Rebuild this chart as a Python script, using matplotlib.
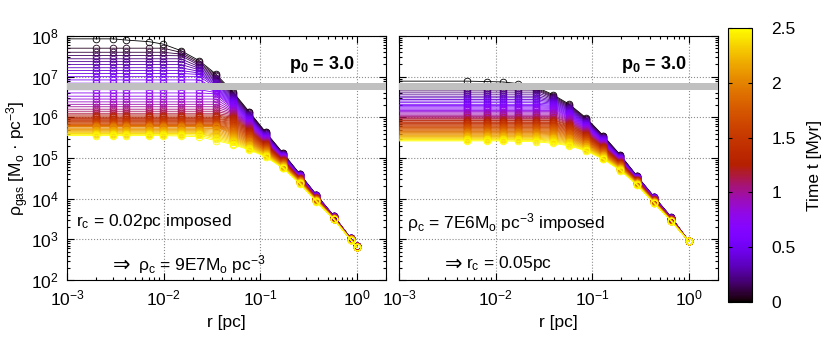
import numpy as np
import matplotlib.pyplot as plt
from matplotlib import colors, ticker
from matplotlib.cm import ScalarMappable

plt.rcParams['font.family'] = ['Liberation Sans', 'DejaVu Sans']
plt.rcParams['mathtext.fontset'] = 'custom'
plt.rcParams['mathtext.rm'] = 'Liberation Sans'
plt.rcParams['mathtext.it'] = 'Liberation Sans:italic'
plt.rcParams['mathtext.bf'] = 'Liberation Sans:bold'

# snapshot spacing [Myr] and colour range
dt = 0.05
t_max = 2.5

# left panel: r_c = 0.02 pc imposed
r_left = [0.0020, 0.0030, 0.0041, 0.0071, 0.0099, 0.0151, 0.0235, 0.0345, 0.052,
          0.0767, 0.1135, 0.172, 0.256, 0.38, 0.58, 0.86, 1.0]
# log10 rho of the first (t=0) and last (t=2.5) profiles
top_left = [7.93, 7.93, 7.90, 7.86, 7.80, 7.64, 7.39, 7.07, 6.63, 6.14, 5.64, 5.12,
            4.61, 4.10, 3.57, 3.03, 2.84]
bot_left = [5.55, 5.55, 5.55, 5.55, 5.55, 5.54, 5.52, 5.43, 5.33, 5.20, 5.03, 4.75,
            4.37, 3.93, 3.49, 2.99, 2.81]
# log10 central density of each snapshot
core_left = [7.93, 7.70, 7.60, 7.52, 7.44, 7.37, 7.30, 7.22, 7.15, 7.08,
             7.00, 6.92, 6.84, 6.76, 6.68, 6.60, 6.52, 6.45, 6.38, 6.32,
             6.26, 6.20, 6.15, 6.10, 6.06, 6.03, 6.00, 5.97, 5.95, 5.92,
             5.90, 5.88, 5.86, 5.84, 5.82, 5.81, 5.80, 5.79, 5.78, 5.77,
             5.76, 5.73, 5.70, 5.68, 5.66, 5.64, 5.62, 5.60, 5.59, 5.57, 5.55]

# right panel: rho_c = 7E6 imposed
r_right = [0.00505, 0.0081, 0.012, 0.017, 0.026, 0.039, 0.058, 0.087, 0.13, 0.196,
           0.29, 0.436, 0.66, 1.0]
top_right = [6.89, 6.88, 6.87, 6.83, 6.75, 6.56, 6.32, 5.98, 5.55, 5.07, 4.56, 4.05,
             3.54, 2.95]
bot_right = [5.42, 5.42, 5.42, 5.41, 5.40, 5.36, 5.30, 5.17, 4.97, 4.69, 4.34, 3.89,
             3.44, 2.95]
core_right = [6.89, 6.78, 6.72, 6.67, 6.62, 6.57, 6.52, 6.48, 6.44, 6.40,
              6.36, 6.32, 6.29, 6.26, 6.23, 6.20, 6.17, 6.14, 6.11, 6.08,
              6.05, 6.02, 6.00, 5.97, 5.94, 5.92, 5.89, 5.87, 5.85, 5.83,
              5.81, 5.79, 5.77, 5.75, 5.73, 5.71, 5.69, 5.67, 5.65, 5.63,
              5.61, 5.59, 5.57, 5.55, 5.53, 5.51, 5.49, 5.47, 5.46, 5.44, 5.42]

# gray band (log10 rho)
band = (6.67, 6.85)

cmap = plt.get_cmap('gnuplot')
norm = colors.Normalize(0, t_max)
xlim = (1e-3, 2.0)
ylim = (1e2, 1e8)
fs = 12.5


def draw_panel(ax, r, top, bot, core):
    r = np.array(r)
    top = np.array(top)
    bot = np.array(bot)
    n = len(core)
    xs = np.r_[xlim[0], r]
    for i, c in enumerate(core):
        f = i / (n - 1)
        prof = 10 ** np.minimum(c, (1 - f) * top + f * bot)
        col = cmap(norm(i * dt))
        ax.plot(xs, np.r_[prof[0], prof], '-', color=col, lw=0.6,
                marker='o', ms=4.8, mfc='none', mec=col, mew=0.6,
                markevery=list(range(1, len(r) + 1)), zorder=3)
    ax.axhspan(10 ** band[0], 10 ** band[1], color='#c0c0c0', lw=0, zorder=5)
    ax.set_xscale('log')
    ax.set_yscale('log')
    ax.set_xlim(*xlim)
    ax.set_ylim(*ylim)
    ax.xaxis.set_minor_locator(ticker.LogLocator(subs=range(2, 10), numticks=20))
    ax.yaxis.set_minor_locator(ticker.LogLocator(subs=range(2, 10), numticks=20))
    ax.xaxis.set_minor_formatter(ticker.NullFormatter())
    ax.yaxis.set_minor_formatter(ticker.NullFormatter())
    ax.set_axisbelow(True)
    ax.grid(True, which='major', ls=':', color='0.55', lw=0.8)
    ax.tick_params(which='both', direction='in', top=True, right=True,
                   labelsize=fs, width=0.8)
    ax.tick_params(which='major', length=5, pad=6)
    ax.tick_params(which='minor', length=2.5)
    ax.set_xlabel('r [pc]', fontsize=fs, labelpad=5)
    ax.text(0.80, 0.885, 'p$_\\mathbf{0}$ = 3.0', transform=ax.transAxes,
            fontsize=13, fontweight='bold', ha='center', va='center')


def implies(ax, x, y, rest, gap):
    # the arrow glyph is only in DejaVu, the rest is in Liberation
    ax.text(x, y, '⇒', transform=ax.transAxes, fontsize=15, va='center',
            family='DejaVu Sans')
    ax.annotate(rest, (x, y), xycoords='axes fraction', xytext=(gap, 0),
                textcoords='offset points', fontsize=fs, va='center')


fig = plt.figure(figsize=(8.3, 3.38), dpi=100)
ax1 = fig.add_axes([0.0807, 0.1716, 0.3843, 0.7219])
ax2 = fig.add_axes([0.4807, 0.1716, 0.3843, 0.7219])
cax = fig.add_axes([0.8771, 0.1065, 0.0289, 0.8107])

draw_panel(ax1, r_left, top_left, bot_left, core_left)
draw_panel(ax2, r_right, top_right, bot_right, core_right)
ax2.tick_params(labelleft=False)

ax1.set_ylabel('ρ$_\\mathrm{gas}$ [M$_\\mathrm{o}$ · pc$^{-3}$]', fontsize=fs, labelpad=0)
ax1.text(0.028, 0.239, 'r$_\\mathrm{c}$ = 0.02pc imposed', transform=ax1.transAxes,
         fontsize=fs, va='center')
implies(ax1, 0.144, 0.063, 'ρ$_\\mathrm{c}$ = 9E7M$_\\mathrm{o}$ pc$^{-3}$', 18)
ax2.text(0.026, 0.234, 'ρ$_\\mathrm{c}$ = 7E6M$_\\mathrm{o}$ pc$^{-3}$ imposed',
         transform=ax2.transAxes, fontsize=fs, va='center')
implies(ax2, 0.144, 0.068, 'r$_\\mathrm{c}$ = 0.05pc', 15)

cb = fig.colorbar(ScalarMappable(norm=norm, cmap=cmap), cax=cax)
cb.set_ticks([0, 0.5, 1, 1.5, 2, 2.5])
cb.set_ticklabels(['0', '0.5', '1', '1.5', '2', '2.5'])
cax.tick_params(direction='in', left=True, right=True, length=3, labelsize=fs, pad=14)
cb.outline.set_linewidth(0.8)
cb.set_label('Time t [Myr]', fontsize=fs, labelpad=8)

fig.savefig('out.png', dpi=100)
